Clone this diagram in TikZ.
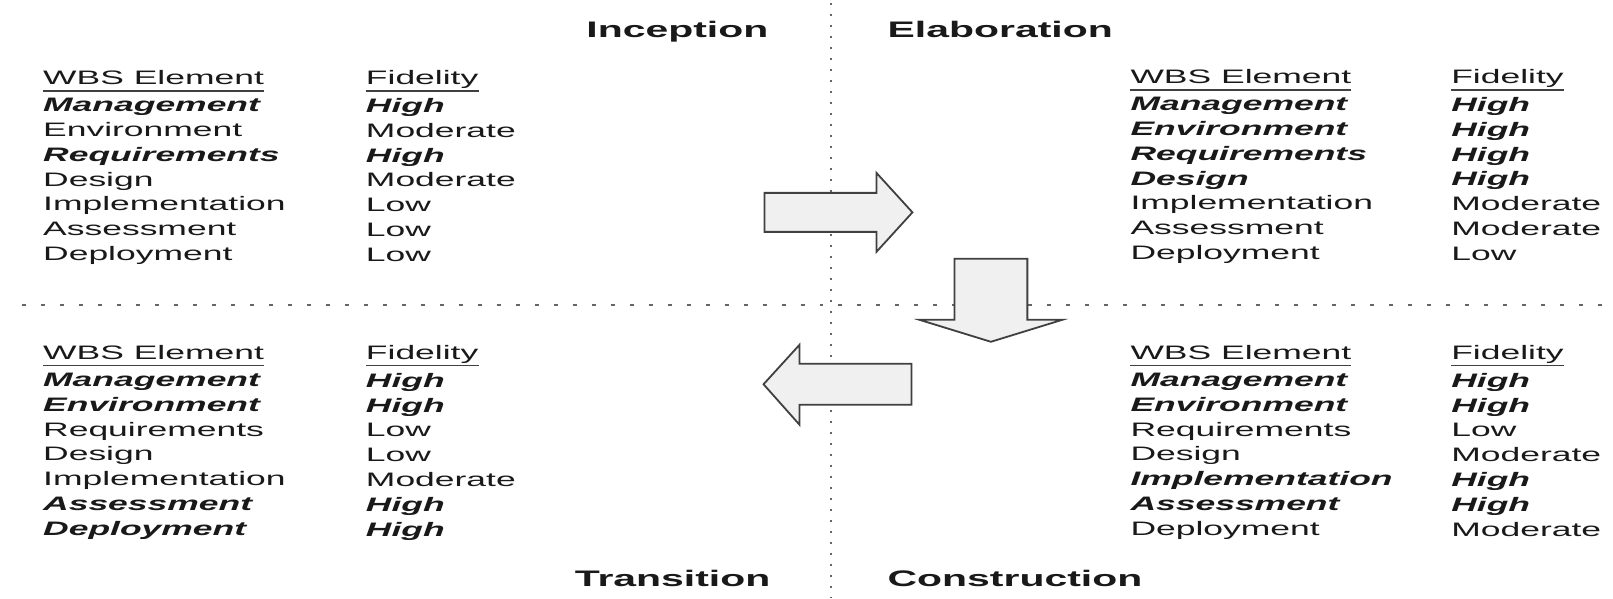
\documentclass[tikz,border=0pt]{standalone}
\usepackage{fontspec}
\setmainfont{Liberation Sans}[FakeStretch=1.82]
\usetikzlibrary{positioning}

\newcommand{\hi}[1]{\textbf{\textit{#1}}}

\begin{document}
\begin{tikzpicture}[
    x=1pt, y=-1pt,
    phase/.style={font=\fontsize{22.5}{27}\selectfont\bfseries, inner sep=0pt, text=black!90},
    head/.style={font=\fontsize{19.5}{24.8}\selectfont, inner sep=0pt, text depth=5.5pt, anchor=base west, text=black!90},
    column/.style={font=\fontsize{19.5}{24.8}\selectfont, inner sep=0pt, align=left, text=black!90},
    uline/.style={line width=1.8pt, black!75},
    divider/.style={line width=2pt, black!60, dash pattern=on 2pt off 9pt},
    flow/.style={draw=black!75, line width=1.8pt, fill=gray!12, line join=miter},
]
    \fill[white] (0,0) rectangle (1613,598);

    % Dividers between the four phases
    \draw[divider] (832,3) -- (832,598);
    \draw[divider, dash pattern=on 4pt off 15pt] (22,305) -- (1613,305);

    % Phase titles
    \node[phase, anchor=base east] (inception) at (769,38) {Inception};
    \node[phase, anchor=base west] (elaboration) at (888,38) {Elaboration};
    \node[phase, anchor=base east] (transition) at (771,587) {Transition};
    \node[phase, anchor=base west] (construction) at (888,587) {Construction};

    % Inception
    \node[head] (incWbs) at (43,85) {WBS Element};
    \node[head] (incFid) at (366,85) {Fidelity};
    \node[column, below=7.5pt of incWbs.south west, anchor=north west] (incRows)
        {\hi{Management}\\Environment\\\hi{Requirements}\\Design\\Implementation\\Assessment\\Deployment};
    \node[column, below=7.5pt of incFid.south west, anchor=north west] (incLevels)
        {\hi{High}\\Moderate\\\hi{High}\\Moderate\\Low\\Low\\Low};

    % Elaboration
    \node[head] (elaWbs) at (1131,84) {WBS Element};
    \node[head] (elaFid) at (1452,84) {Fidelity};
    \node[column, below=7.5pt of elaWbs.south west, anchor=north west] (elaRows)
        {\hi{Management}\\\hi{Environment}\\\hi{Requirements}\\\hi{Design}\\Implementation\\Assessment\\Deployment};
    \node[column, below=7.5pt of elaFid.south west, anchor=north west] (elaLevels)
        {\hi{High}\\\hi{High}\\\hi{High}\\\hi{High}\\Moderate\\Moderate\\Low};

    % Transition
    \node[head] (traWbs) at (43,360) {WBS Element};
    \node[head] (traFid) at (366,360) {Fidelity};
    \node[column, below=7.5pt of traWbs.south west, anchor=north west] (traRows)
        {\hi{Management}\\\hi{Environment}\\Requirements\\Design\\Implementation\\\hi{Assessment}\\\hi{Deployment}};
    \node[column, below=7.5pt of traFid.south west, anchor=north west] (traLevels)
        {\hi{High}\\\hi{High}\\Low\\Low\\Moderate\\\hi{High}\\\hi{High}};

    % Construction
    \node[head] (conWbs) at (1131,360) {WBS Element};
    \node[head] (conFid) at (1452,360) {Fidelity};
    \node[column, below=7.5pt of conWbs.south west, anchor=north west] (conRows)
        {\hi{Management}\\\hi{Environment}\\Requirements\\Design\\\hi{Implementation}\\\hi{Assessment}\\Deployment};
    \node[column, below=7.5pt of conFid.south west, anchor=north west] (conLevels)
        {\hi{High}\\\hi{High}\\Low\\Moderate\\\hi{High}\\\hi{High}\\Moderate};

    % Underlined column heads
    \foreach \h in {incWbs, incFid, elaWbs, elaFid, traWbs, traFid, conWbs, conFid}
        \draw[uline] (\h.south west) -- (\h.south east);

    % Block arrows: Inception -> Elaboration -> Construction -> Transition
    \draw[flow] (765,193) -- (877,193) -- (877,173) -- (913,212.5) -- (877,252) -- (877,232) -- (765,232) -- cycle;
    \draw[flow] (955,259) -- (1028,259) -- (1028,320) -- (1063,320) -- (991.5,342) -- (920,320) -- (955,320) -- cycle;
    \draw[flow] (912,364) -- (800,364) -- (800,345) -- (764,384.5) -- (800,425) -- (800,405) -- (912,405) -- cycle;
\end{tikzpicture}
\end{document}
